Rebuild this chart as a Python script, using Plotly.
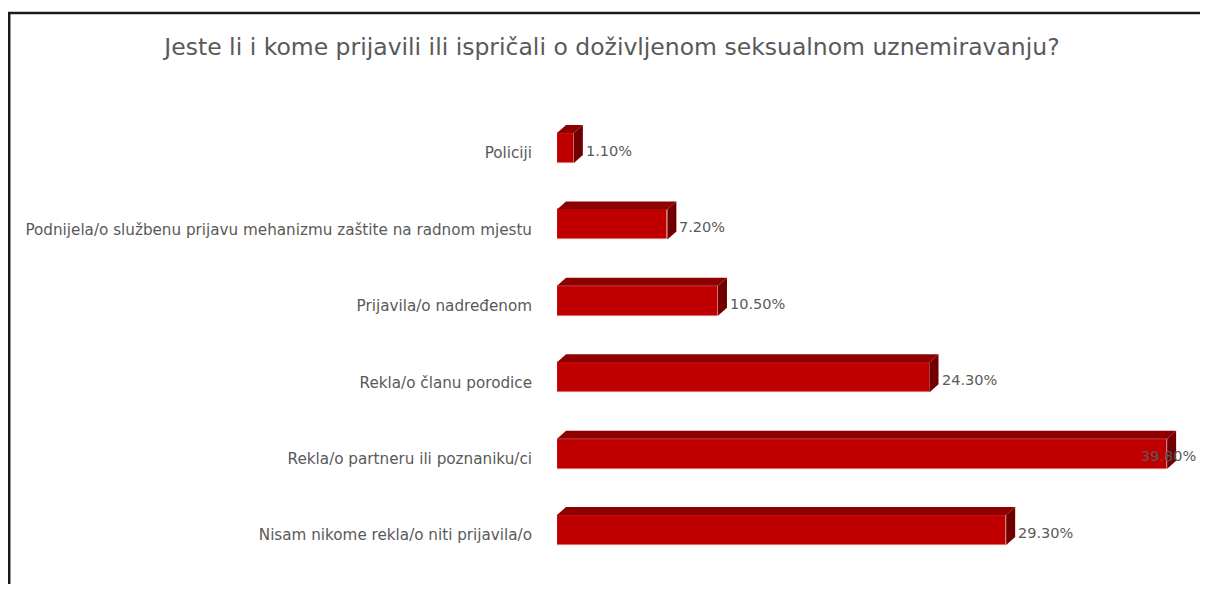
import plotly.graph_objects as go

categories = [
    "Policiji",
    "Podnijela/o službenu prijavu mehanizmu zaštite na radnom mjestu",
    "Prijavila/o nadređenom",
    "Rekla/o članu porodice",
    "Rekla/o partneru ili poznaniku/ci",
    "Nisam nikome rekla/o niti prijavila/o",
]
values = [1.1, 7.2, 10.5, 24.3, 39.8, 29.3]
value_labels = ["1.10%", "7.20%", "10.50%", "24.30%", "39.80%", "29.30%"]
title_text = "Jeste li i kome prijavili ili ispričali o doživljenom seksualnom uznemiravanju?"

# page body has an 8px margin; figure is sized/positioned to compensate
OFF = 8
W, H = 1208 - 2 * OFF, 592 - 2 * OFF
ML, MR, MT, MB = 557 - OFF, 0, 100 - OFF, 10
plot_w = W - ML - MR
plot_h = H - MT - MB
px_per_x = 15.33
px_per_y = 76.4
x_max = plot_w / px_per_x
first_label_px = 153 - OFF
y_top = (MT - first_label_px) / px_per_y
y_bot = (H - MB - first_label_px) / px_per_y

dx = 9 / px_per_x
dy = 8 / px_per_y
bar_w = 30 / px_per_y
off = -0.065 - bar_w / 2

FRONT = "#C00000"
TOP = "#8E0000"
SIDE = "#700000"
TXT = "#595959"
FONT = "DejaVu Sans"

pos = list(range(len(categories)))

fig = go.Figure()
fig.add_trace(go.Bar(
    y=pos, x=values, orientation="h", base=0,
    width=bar_w, offset=off,
    marker=dict(color=FRONT, line=dict(color="#E8A0A0", width=0.6)),
    hoverinfo="skip", showlegend=False,
))

shapes = []
for i, v in zip(pos, values):
    yt = i + off
    yb = i + off + bar_w
    top_path = f"M 0,{yt} L {v},{yt} L {v+dx},{yt-dy} L {dx},{yt-dy} Z"
    side_path = f"M {v},{yt} L {v+dx},{yt-dy} L {v+dx},{yb-dy} L {v},{yb} Z"
    shapes.append(dict(type="path", xref="x", yref="y", path=top_path,
                       fillcolor=TOP, line=dict(width=0), layer="above"))
    shapes.append(dict(type="path", xref="x", yref="y", path=side_path,
                       fillcolor=SIDE, line=dict(width=0), layer="above"))

# chart frame (left and top edges visible; right/bottom beyond the picture)
shapes.append(dict(type="rect", xref="paper", yref="paper",
                   x0=(1.2 - ML) / plot_w, x1=(W + 30 - ML) / plot_w,
                   y0=1 - (H + 30 - MT) / plot_h, y1=1 + (MT - (13 - OFF)) / plot_h,
                   line=dict(color="#1a1a1a", width=2.5), fillcolor="rgba(0,0,0,0)",
                   layer="below"))

annotations = []
vmax = max(values)
LBL = 14.5
for i, v, t in zip(pos, values, value_labels):
    if v == vmax and (v * px_per_x + ML + 12 + 55) > W:
        annotations.append(dict(x=1.0, xref="paper", y=i - 0.03, yref="y",
                                text=t, showarrow=False, xanchor="right", xshift=-2,
                                font=dict(family=FONT, size=LBL, color=TXT)))
    else:
        annotations.append(dict(x=v, xref="x", y=i - 0.03, yref="y",
                                text=t, showarrow=False, xanchor="left", xshift=10,
                                font=dict(family=FONT, size=LBL, color=TXT)))

fig.update_layout(
    width=W, height=H,
    margin=dict(l=ML, r=MR, t=MT, b=MB),
    paper_bgcolor="white", plot_bgcolor="white",
    title=dict(text=title_text, x=(612 - OFF) / W, xanchor="center",
               y=1 - (47 - OFF) / H, yanchor="middle", yref="container",
               font=dict(family=FONT, size=23.5, color=TXT)),
    xaxis=dict(range=[0, x_max], visible=False, fixedrange=True),
    yaxis=dict(range=[y_bot, y_top], tickvals=pos, ticktext=categories,
               showgrid=False, zeroline=False, showline=False, ticks="",
               ticklabelstandoff=24,
               tickfont=dict(family=FONT, size=15.2, color=TXT)),
    shapes=shapes, annotations=annotations, bargap=0,
)

fig.write_html("out.html")
